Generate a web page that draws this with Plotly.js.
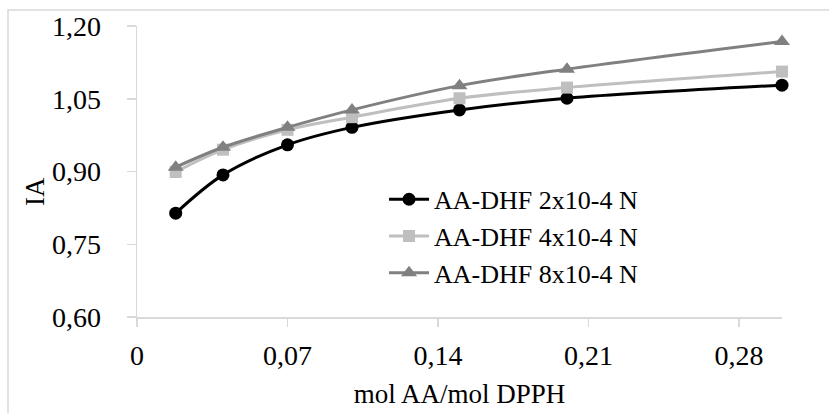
<!DOCTYPE html>
<html>
<head>
<meta charset="utf-8">
<script src="https://cdn.plot.ly/plotly-3.0.1.min.js"></script>
<style>
html,body{margin:0;padding:0;background:#fff;}
#chart{width:829px;height:413px;}
</style>
</head>
<body>
<div id="chart"></div>
<script>
const xValues = [0.018, 0.04, 0.07, 0.1, 0.15, 0.2, 0.3];
const series2 = [0.814, 0.893, 0.955, 0.991, 1.027, 1.051, 1.078];
const series4 = [0.899, 0.945, 0.986, 1.012, 1.051, 1.073, 1.106];
const series8 = [0.909, 0.950, 0.991, 1.027, 1.077, 1.111, 1.168];
const seriesNames = ['AA-DHF 2x10-4 N', 'AA-DHF 4x10-4 N', 'AA-DHF 8x10-4 N'];
const xTickVals = [0, 0.07, 0.14, 0.21, 0.28];
const xTickText = ['0', '0,07', '0,14', '0,21', '0,28'];
const yTickVals = [0.60, 0.75, 0.90, 1.05, 1.20];
const yTickText = ['0,60', '0,75', '0,90', '1,05', '1,20'];

const font = 'Liberation Serif, Times New Roman, serif';
const axisGrey = '#d9d9d9';

const traces = [
  {x: xValues, y: series2, name: seriesNames[0], mode: 'lines+markers', cliponaxis: false,
   line: {color: '#000000', width: 3, shape: 'spline', smoothing: 1},
   marker: {symbol: 'circle', size: 13, color: '#000000'}},
  {x: xValues, y: series4, name: seriesNames[1], mode: 'lines+markers', cliponaxis: false,
   line: {color: '#bfbfbf', width: 3, shape: 'spline', smoothing: 1},
   marker: {symbol: 'square', size: 12, color: '#bfbfbf'}},
  {x: xValues, y: series8, name: seriesNames[2], mode: 'lines+markers', cliponaxis: false,
   line: {color: '#808080', width: 3, shape: 'spline', smoothing: 1},
   marker: {symbol: 'triangle-up', size: 14, color: '#808080'}}
];

const layout = {
  width: 829, height: 413,
  margin: {l: 137, r: 47, t: 26, b: 96},
  paper_bgcolor: '#ffffff', plot_bgcolor: '#ffffff',
  font: {family: font, size: 27, color: '#000000'},
  showlegend: true,
  legend: {x: 0.383, xanchor: 'left', y: 0.485, yanchor: 'top',
           bgcolor: 'rgba(0,0,0,0)', font: {family: font, size: 26},
           tracegroupgap: 0, itemwidth: 40},
  xaxis: {range: [0, 0.30], tickvals: xTickVals, ticktext: xTickText,
          showgrid: false, zeroline: false, showline: true, linecolor: axisGrey, linewidth: 1.5,
          ticks: 'outside', ticklen: 8, tickcolor: axisGrey, tickwidth: 1.5,
          tickfont: {family: font, size: 28}, ticklabelstandoff: 5,
          title: {text: 'mol AA/mol DPPH', font: {family: font, size: 27}, standoff: 14}},
  yaxis: {range: [0.60, 1.20], tickvals: yTickVals, ticktext: yTickText,
          showgrid: false, zeroline: false, showline: true, linecolor: axisGrey, linewidth: 1.5,
          ticks: 'outside', ticklen: 9, tickcolor: axisGrey, tickwidth: 1.5,
          tickfont: {family: font, size: 28}, ticklabelstandoff: 20},
  annotations: [{text: 'IA', xref: 'paper', yref: 'paper', x: -0.158, y: 0.43,
                 xanchor: 'center', yanchor: 'middle', textangle: -90, showarrow: false,
                 font: {family: font, size: 27}}],
  shapes: [{type: 'rect', xref: 'paper', yref: 'paper', x0: -0.2, x1: 1.2, y0: -0.5, y1: 1.055,
            line: {color: axisGrey, width: 1.5}, fillcolor: 'rgba(0,0,0,0)', layer: 'below'}]
};

Plotly.newPlot('chart', traces, layout, {displayModeBar: false, staticPlot: true});
</script>
</body>
</html>
